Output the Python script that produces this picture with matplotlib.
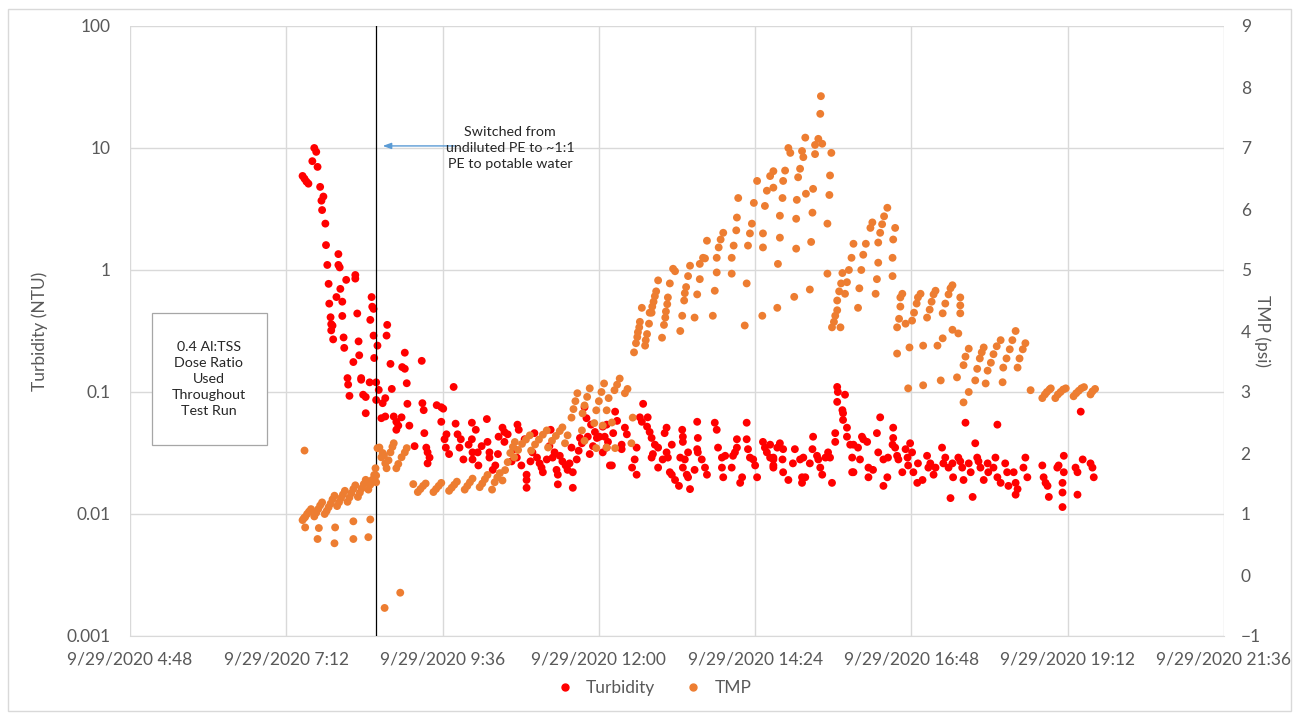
import matplotlib
matplotlib.use("Agg")
import matplotlib.pyplot as plt
from matplotlib.lines import Line2D
from matplotlib.patches import Rectangle
from matplotlib.ticker import NullLocator, FixedLocator

plt.rcParams['font.family'] = ['Lato', 'DejaVu Sans']

# ---------------- data (time in decimal hours on 9/29/2020) ----------------
x_tick_labels = ["9/29/2020 4:48", "9/29/2020 7:12", "9/29/2020 9:36", "9/29/2020 12:00",
                 "9/29/2020 14:24", "9/29/2020 16:48", "9/29/2020 19:12", "9/29/2020 21:36"]
turb_ticks = [0.001, 0.01, 0.1, 1, 10, 100]
turb_tick_labels = ["0.001", "0.01", "0.1", "1", "10", "100"]
tmp_ticks = [-1, 0, 1, 2, 3, 4, 5, 6, 7, 8, 9]
switch_hour = 8.58

turb_startup = [(7.45, 5.9), (7.48, 5.6), (7.51, 5.3), (7.54, 5.1), (7.60, 7.8), (7.63, 10.0),
                (7.66, 9.3), (7.68, 7.0), (7.72, 4.8), (7.74, 3.7), (7.75, 3.1), (7.77, 4.0),
                (7.80, 2.4), (7.81, 1.6), (7.83, 1.1), (7.85, 0.77), (7.86, 0.53), (7.88, 0.41),
                (7.89, 0.36), (7.89, 0.32), (7.91, 0.35), (7.92, 0.27), (7.97, 0.60), (8.00, 1.35),
                (8.00, 1.10), (8.02, 1.05), (8.03, 0.70), (8.06, 0.55), (8.06, 0.42), (8.08, 0.28),
                (8.09, 0.23), (8.12, 0.83), (8.14, 0.13), (8.15, 0.115), (8.17, 0.093), (8.23, 0.176),
                (8.26, 0.91), (8.26, 0.85), (8.29, 0.44), (8.31, 0.26), (8.32, 0.20), (8.35, 0.13),
                (8.35, 0.126), (8.38, 0.095), (8.42, 0.091), (8.42, 0.067), (8.48, 0.12), (8.49, 0.39),
                (8.51, 0.60), (8.52, 0.50), (8.54, 0.48), (8.54, 0.29), (8.55, 0.19), (8.58, 0.12),
                (8.58, 0.086), (8.60, 0.24), (8.62, 0.104), (8.66, 0.061), (8.68, 0.081), (8.72, 0.089),
                (8.72, 0.063), (8.74, 0.29), (8.75, 0.355), (8.80, 0.17), (8.82, 0.106), (8.85, 0.063),
                (8.89, 0.057), (8.89, 0.049), (8.92, 0.053), (8.97, 0.062), (8.98, 0.16), (9.02, 0.21),
                (9.02, 0.155), (9.05, 0.118), (9.06, 0.08), (9.09, 0.053), (9.17, 0.036), (9.28, 0.18),
                (9.29, 0.081), (9.31, 0.071), (9.32, 0.046), (9.35, 0.035), (9.37, 0.032), (9.37, 0.026),
                (9.40, 0.029), (9.51, 0.078), (9.77, 0.11)]

turb_morning = [(9.58, 0.075), (9.61, 0.073), (9.58, 0.057), (9.66, 0.045), (9.63, 0.041), (9.65, 0.035),
                (9.80, 0.055), (9.83, 0.045), (9.88, 0.041), (9.86, 0.035), (10.05, 0.056), (10.05, 0.041),
                (10.11, 0.049), (10.28, 0.060), (10.29, 0.039), (10.06, 0.032), (10.14, 0.032), (10.06, 0.028),
                (10.15, 0.025), (10.32, 0.032), (10.32, 0.029), (10.41, 0.025), (10.37, 0.023), (10.52, 0.051),
                (10.55, 0.047), (10.60, 0.045), (10.75, 0.054), (10.77, 0.049), (10.55, 0.039), (10.86, 0.041),
                (10.74, 0.029), (10.81, 0.025), (10.89, 0.021), (10.89, 0.019), (10.89, 0.0164), (11.01, 0.046),
                (10.98, 0.032), (11.05, 0.029), (11.09, 0.026), (11.12, 0.024), (11.14, 0.022), (11.20, 0.028),
                (11.26, 0.049), (11.29, 0.029), (11.32, 0.032), (11.35, 0.023), (11.37, 0.021), (11.37, 0.0175),
                (11.44, 0.027), (11.49, 0.025), (11.52, 0.023), (11.58, 0.035), (11.60, 0.0164), (11.60, 0.022),
                (11.66, 0.028), (11.71, 0.042), (11.74, 0.038), (11.78, 0.075), (11.81, 0.061), (11.83, 0.043),
                (11.91, 0.036), (11.94, 0.047), (11.97, 0.042), (12.01, 0.043), (12.06, 0.052), (12.09, 0.043),
                (12.12, 0.035), (12.17, 0.025), (12.06, 0.032), (12.25, 0.069), (12.28, 0.058), (12.12, 0.054),
                (12.22, 0.046), (9.70, 0.031), (9.92, 0.028), (10.00, 0.037), (10.20, 0.036), (10.45, 0.031),
                (10.66, 0.027), (10.70, 0.034), (10.95, 0.027), (11.40, 0.030), (11.55, 0.026), (11.86, 0.031),
                (11.88, 0.054), (12.14, 0.039), (10.46, 0.043), (11.24, 0.036), (11.69, 0.033)]

turb_midday = [(12.20, 0.025), (12.35, 0.037), (12.35, 0.034), (12.40, 0.051), (12.43, 0.045), (12.68, 0.080),
               (12.63, 0.062), (12.66, 0.057), (12.75, 0.062), (12.74, 0.052), (12.78, 0.047), (12.81, 0.042),
               (12.86, 0.037), (12.91, 0.035), (12.83, 0.031), (12.81, 0.029), (12.58, 0.035), (12.55, 0.028),
               (12.51, 0.024), (12.58, 0.021), (13.04, 0.051), (13.01, 0.046), (13.12, 0.037), (13.04, 0.032),
               (13.06, 0.029), (12.98, 0.028), (12.91, 0.024), (13.09, 0.022), (13.12, 0.021), (13.17, 0.019),
               (13.23, 0.017), (13.28, 0.049), (13.29, 0.043), (13.29, 0.039), (13.25, 0.029), (13.32, 0.028),
               (13.29, 0.024), (13.35, 0.021), (13.37, 0.020), (13.40, 0.016), (13.37, 0.032), (13.51, 0.057),
               (13.52, 0.042), (13.51, 0.034), (13.52, 0.032), (13.58, 0.028), (13.63, 0.024), (13.47, 0.023),
               (13.66, 0.021), (13.78, 0.056), (13.81, 0.049), (13.83, 0.035), (13.89, 0.029), (13.94, 0.030),
               (13.89, 0.024), (13.91, 0.020), (14.04, 0.024), (14.06, 0.030), (14.09, 0.032), (14.12, 0.041),
               (14.12, 0.035), (14.17, 0.018), (14.20, 0.020), (14.27, 0.056), (14.27, 0.041), (14.29, 0.034),
               (14.32, 0.029), (14.37, 0.028), (14.40, 0.025), (14.43, 0.020), (14.52, 0.039), (14.55, 0.035),
               (14.58, 0.032), (14.63, 0.029), (14.68, 0.028), (14.68, 0.024), (14.74, 0.035)]

turb_afternoon = [(14.63, 0.037), (14.68, 0.029), (14.68, 0.025), (14.78, 0.038), (14.83, 0.034), (14.82, 0.028),
                  (14.83, 0.022), (14.91, 0.019), (15.01, 0.034), (14.98, 0.026), (15.09, 0.028), (15.14, 0.029),
                  (15.12, 0.020), (15.12, 0.018), (15.17, 0.020), (15.24, 0.026), (15.29, 0.043), (15.28, 0.034),
                  (15.35, 0.030), (15.37, 0.028), (15.40, 0.024), (15.43, 0.021), (15.48, 0.029), (15.52, 0.032),
                  (15.55, 0.029), (15.58, 0.018), (15.63, 0.039), (15.63, 0.046), (15.66, 0.11), (15.67, 0.10),
                  (15.78, 0.095), (15.66, 0.083), (15.74, 0.071), (15.75, 0.067), (15.75, 0.059), (15.81, 0.051),
                  (15.81, 0.043), (15.86, 0.037), (15.91, 0.037), (15.98, 0.035), (15.89, 0.029), (15.89, 0.022),
                  (15.91, 0.022), (16.01, 0.028), (16.04, 0.043), (16.06, 0.041), (16.12, 0.039), (16.14, 0.024),
                  (16.14, 0.020), (16.21, 0.023), (16.27, 0.046), (16.29, 0.032), (16.32, 0.062), (16.37, 0.028),
                  (16.37, 0.017), (16.43, 0.020), (16.44, 0.029), (16.51, 0.037), (16.52, 0.051), (16.52, 0.042),
                  (16.55, 0.035), (16.58, 0.030), (16.60, 0.028), (16.66, 0.022), (16.71, 0.034), (16.74, 0.029),
                  (16.75, 0.025), (16.78, 0.038), (16.81, 0.032), (16.83, 0.022), (16.89, 0.018)]

turb_evening = [(16.90, 0.026), (16.97, 0.019), (17.04, 0.030), (17.06, 0.024), (17.09, 0.026), (17.14, 0.021),
                (17.17, 0.024), (17.27, 0.035), (17.29, 0.026), (17.32, 0.029), (17.37, 0.024), (17.43, 0.026),
                (17.40, 0.0135), (17.44, 0.020), (17.52, 0.029), (17.55, 0.027), (17.58, 0.024), (17.63, 0.056),
                (17.60, 0.019), (17.68, 0.026), (17.71, 0.022), (17.74, 0.0138), (17.78, 0.038), (17.81, 0.029),
                (17.83, 0.027), (17.86, 0.024), (17.91, 0.019), (17.97, 0.026), (17.98, 0.022), (18.09, 0.029),
                (18.12, 0.054), (18.06, 0.024), (18.12, 0.020), (18.17, 0.018), (18.24, 0.026), (18.27, 0.022),
                (18.29, 0.017), (18.37, 0.022), (18.40, 0.018), (18.40, 0.0144), (18.43, 0.016), (18.52, 0.024),
                (18.55, 0.029), (18.58, 0.020), (18.81, 0.025), (18.83, 0.020), (18.86, 0.018), (18.89, 0.017),
                (18.91, 0.0138), (19.04, 0.024), (19.06, 0.025), (19.12, 0.018), (19.14, 0.030), (19.14, 0.022),
                (19.12, 0.015), (19.12, 0.0114), (19.32, 0.024), (19.35, 0.022), (19.35, 0.0144), (19.40, 0.069),
                (19.43, 0.028), (19.55, 0.026), (19.58, 0.024), (19.60, 0.020)]

tmp_undiluted = [(7.48, 2.04),
                 (7.45, 0.90), (7.47, 0.93), (7.49, 0.95), (7.52, 1.00), (7.55, 1.04), (7.58, 1.08),
                 (7.63, 0.96), (7.66, 1.02), (7.69, 1.08), (7.72, 1.14), (7.75, 1.19),
                 (7.79, 1.00), (7.82, 1.05), (7.85, 1.11), (7.88, 1.17), (7.91, 1.24), (7.94, 1.30),
                 (7.98, 1.13), (8.01, 1.19), (8.04, 1.26), (8.07, 1.32), (8.10, 1.38),
                 (8.14, 1.20), (8.17, 1.27), (8.20, 1.34), (8.23, 1.41), (8.26, 1.47),
                 (8.30, 1.28), (8.33, 1.35), (8.36, 1.42), (8.39, 1.49), (8.42, 1.56),
                 (8.46, 1.40), (8.49, 1.48), (8.52, 1.56), (8.55, 1.64), (8.57, 1.75),
                 (7.49, 0.78), (7.70, 0.77), (7.95, 0.78), (8.23, 0.88), (8.49, 0.91),
                 (7.68, 0.59), (7.94, 0.52), (8.23, 0.59), (8.46, 0.62)]

tmp_diluted_1 = [(8.58, 1.63), (8.58, 1.52), (8.60, 2.08), (8.63, 2.09), (8.66, 1.93), (8.68, 2.00),
                 (8.70, 1.96), (8.72, 1.83), (8.74, 1.75), (8.77, 1.88), (8.80, 2.01), (8.83, 2.10),
                 (8.85, 2.16), (8.89, 1.75), (8.92, 1.82), (8.97, 1.93), (9.02, 2.01), (9.05, 2.08),
                 (8.95, -0.29), (8.71, -0.54)]

tmp_diluted_2 = [(9.15, 1.49),
                 (9.22, 1.36), (9.26, 1.41), (9.30, 1.46), (9.34, 1.50),
                 (9.46, 1.36), (9.50, 1.41), (9.54, 1.46), (9.58, 1.51),
                 (9.70, 1.38), (9.74, 1.43), (9.78, 1.48), (9.82, 1.53),
                 (9.94, 1.40), (9.98, 1.46), (10.02, 1.52), (10.06, 1.58),
                 (10.17, 1.44), (10.21, 1.50), (10.25, 1.57), (10.29, 1.64),
                 (10.40, 1.52), (10.44, 1.60), (10.48, 1.67),
                 (10.56, 1.72), (10.60, 1.85), (10.64, 2.00), (10.68, 2.10), (10.71, 2.18),
                 (10.70, 1.93), (10.76, 2.05), (10.82, 2.15), (10.88, 2.22), (10.94, 2.29),
                 (10.96, 2.04), (11.02, 2.14), (11.08, 2.22), (11.14, 2.30), (11.20, 2.37),
                 (11.22, 2.09), (11.28, 2.20), (11.34, 2.28), (11.40, 2.36), (11.44, 2.42),
                 (11.48, 2.16), (11.52, 2.29), (10.36, 1.40), (10.52, 1.55)]

tmp_diluted_3 = [(11.58, 2.58), (11.61, 2.72), (11.64, 2.85), (11.67, 2.98),
                 (11.75, 2.65), (11.78, 2.78), (11.82, 2.92), (11.86, 3.06),
                 (11.96, 2.70), (12.00, 2.85), (12.04, 3.00), (12.08, 3.14),
                 (12.12, 2.70), (12.15, 2.90),
                 (12.24, 3.03), (12.28, 3.12), (12.32, 3.22),
                 (12.40, 2.98), (12.44, 3.05),
                 (11.74, 2.37), (11.93, 2.49), (12.06, 2.45), (12.20, 2.50), (11.78, 2.20),
                 (11.96, 2.08), (12.12, 2.09), (12.25, 2.08), (12.50, 2.16), (12.52, 2.58)]

tmp_rise_1 = [(12.54, 3.65),
              (12.57, 3.80), (12.59, 3.90), (12.60, 3.98), (12.62, 4.06), (12.63, 4.15), (12.66, 4.38),
              (12.71, 3.76), (12.72, 3.85), (12.74, 3.95), (12.77, 4.12), (12.78, 4.30),
              (12.81, 4.30), (12.82, 4.40), (12.84, 4.48), (12.86, 4.57), (12.88, 4.65), (12.91, 4.83),
              (12.97, 3.89), (13.00, 4.10), (13.02, 4.22), (13.03, 4.32), (13.05, 4.44), (13.06, 4.55),
              (13.09, 4.78),
              (13.14, 5.02), (13.17, 4.98),
              (13.25, 4.00), (13.28, 4.25), (13.31, 4.50), (13.32, 4.62), (13.34, 4.72), (13.37, 4.90),
              (13.40, 5.07),
              (13.47, 4.22), (13.51, 4.60), (13.55, 4.85), (13.55, 5.10), (13.60, 5.20), (13.63, 5.19),
              (13.66, 5.48),
              (13.75, 4.25), (13.78, 4.66), (13.81, 4.96), (13.81, 5.20), (13.84, 5.37), (13.87, 5.50),
              (13.91, 5.61),
              (14.04, 4.94), (14.04, 5.20), (14.07, 5.40), (14.11, 5.65), (14.12, 5.86), (14.14, 6.18),
              (14.24, 4.09), (14.27, 4.78), (14.29, 5.40), (14.32, 5.60), (14.35, 5.76), (14.38, 6.10),
              (14.43, 6.46),
              (14.51, 4.25), (14.52, 5.37), (14.52, 5.60), (14.55, 6.05), (14.58, 6.30), (14.63, 6.54),
              (14.68, 6.35), (14.68, 6.62),
              (14.74, 4.38), (14.75, 5.10), (14.78, 5.53), (14.78, 5.89), (14.82, 6.18), (14.83, 6.46),
              (14.86, 6.63), (14.91, 7.00), (14.94, 6.92),
              (15.00, 4.56), (15.03, 5.35), (15.03, 5.84), (15.04, 6.15), (15.06, 6.52), (15.09, 6.66),
              (15.12, 6.95), (15.14, 6.85), (15.17, 7.17),
              (15.24, 4.68), (15.26, 5.46), (15.28, 5.94), (15.29, 6.33), (15.18, 6.25), (15.32, 6.90),
              (15.32, 7.05), (15.37, 7.15), (15.40, 7.56), (15.41, 7.85), (15.43, 7.07),
              (15.51, 4.94), (15.51, 5.76), (15.54, 6.23), (15.55, 6.55), (15.57, 6.92)]

tmp_rise_2 = [(15.58, 4.06), (15.61, 4.15), (15.63, 4.25), (15.66, 4.34), (15.71, 4.06),
              (15.66, 4.50), (15.69, 4.65), (15.72, 4.78), (15.74, 4.95),
              (15.78, 4.61), (15.81, 4.80), (15.84, 5.00), (15.88, 5.20), (15.91, 5.43),
              (15.98, 4.38), (16.00, 4.70), (16.03, 5.00), (16.06, 5.25), (16.10, 5.43),
              (16.17, 5.69), (16.20, 5.78),
              (16.25, 4.61), (16.27, 4.85), (16.29, 5.12), (16.29, 5.45),
              (16.32, 5.61), (16.35, 5.75), (16.38, 5.88), (16.43, 6.02),
              (16.51, 4.90), (16.51, 5.20), (16.52, 5.50), (16.55, 5.69)]

tmp_rise_3 = [(16.58, 4.06), (16.61, 4.20), (16.63, 4.40), (16.63, 4.55), (16.66, 4.61),
              (16.58, 3.63), (16.71, 4.12), (16.77, 3.73), (16.75, 3.06),
              (16.81, 4.17), (16.84, 4.30), (16.88, 4.45), (16.90, 4.55), (16.94, 4.61),
              (16.98, 3.76), (16.98, 3.11),
              (17.04, 4.22), (17.08, 4.35), (17.11, 4.48), (17.14, 4.60), (17.17, 4.66),
              (17.20, 3.76), (17.25, 3.19), (17.28, 3.88),
              (17.28, 4.29), (17.32, 4.45), (17.37, 4.60), (17.40, 4.70), (17.43, 4.75),
              (17.43, 4.02), (17.52, 3.96), (17.50, 3.24),
              (17.55, 4.29), (17.55, 4.42), (17.55, 4.55)]

tmp_rise_4 = [(17.60, 2.83), (17.60, 3.44), (17.63, 3.58), (17.68, 3.71), (17.68, 3.00),
              (17.78, 3.19), (17.81, 3.38), (17.85, 3.55), (17.88, 3.65), (17.91, 3.73),
              (17.94, 3.14),
              (17.97, 3.35), (18.02, 3.48), (18.06, 3.62), (18.11, 3.75), (18.17, 3.85),
              (18.20, 3.16),
              (18.21, 3.40), (18.26, 3.55), (18.31, 3.70), (18.35, 3.85), (18.40, 4.00),
              (18.43, 3.40), (18.46, 3.55), (18.51, 3.70), (18.55, 3.80)]

tmp_final = [(18.63, 3.03),
             (18.81, 2.90), (18.85, 2.96), (18.88, 3.00), (18.92, 3.04), (18.94, 3.06),
             (19.01, 2.90), (19.05, 2.96), (19.09, 3.00), (19.13, 3.04), (19.17, 3.06),
             (19.29, 2.93), (19.33, 2.98), (19.37, 3.02), (19.41, 3.06), (19.45, 3.08),
             (19.55, 2.96), (19.58, 3.01), (19.62, 3.05)]

note_text = "Switched from\nundiluted PE to ~1:1\nPE to potable water"
box_text = "0.4 Al:TSS\nDose Ratio\nUsed\nThroughout\nTest Run"

# ---------------- assemble ----------------
turb_pts = turb_startup + turb_morning + turb_midday + turb_afternoon + turb_evening
tmp_pts = (tmp_undiluted + tmp_diluted_1 + tmp_diluted_2 + tmp_diluted_3 +
           tmp_rise_1 + tmp_rise_2 + tmp_rise_3 + tmp_rise_4 + tmp_final)
turb_h = [p[0] for p in turb_pts]
turb_v = [p[1] for p in turb_pts]
tmp_h = [p[0] for p in tmp_pts]
tmp_v = [p[1] for p in tmp_pts]


def label_to_hours(lbl):
    hm = lbl.split(" ")[1]
    hh, mm = hm.split(":")
    return int(hh) + int(mm) / 60.0


x_ticks = [label_to_hours(l) for l in x_tick_labels]

W, H = 1299, 719
fig = plt.figure(figsize=(W / 100, H / 100), dpi=100)
fig.patch.set_facecolor("white")

L, R, T, B = 130, 1224, 26, 636
ax = fig.add_axes([L / W, 1 - B / H, (R - L) / W, (B - T) / H])
ax.set_yscale("log")
ax.set_ylim(turb_ticks[0], turb_ticks[-1])
ax.set_xlim(x_ticks[0], x_ticks[-1])
ax.yaxis.set_major_locator(FixedLocator(turb_ticks))
ax.yaxis.set_minor_locator(NullLocator())
ax.set_yticklabels(turb_tick_labels)
ax.set_xticks(x_ticks)
ax.set_xticklabels(x_tick_labels)
ax.grid(True, which="major", color="#D9D9D9", lw=1.0)
ax.set_axisbelow(True)
for s in ["top", "right", "left"]:
    ax.spines[s].set_visible(False)
ax.spines["bottom"].set_color("#D9D9D9")
ax.tick_params(axis="both", length=0, labelcolor="#595959", labelsize=12.5)
ax.tick_params(axis="y", pad=14)
ax.tick_params(axis="x", pad=11)

ax2 = ax.twinx()
ax2.set_ylim(tmp_ticks[0], tmp_ticks[-1])
ax2.set_yticks(tmp_ticks)
for s in ["top", "right", "left", "bottom"]:
    ax2.spines[s].set_visible(False)
ax2.tick_params(axis="y", length=0, labelcolor="#595959", labelsize=12.5, pad=12)

ax.scatter(turb_h, turb_v, s=32, color="#FF0000", edgecolors="none", zorder=3)
ax2.scatter(tmp_h, tmp_v, s=32, color="#ED7D31", edgecolors="none", zorder=3)

ax.axvline(switch_hour, color="#000000", lw=0.9, zorder=4)

ax.set_ylabel("Turbidity (NTU)", color="#595959", fontsize=12.5, va="center", ha="center")
ax.yaxis.set_label_coords((40 - L) / (R - L), 0.5)
ax2.set_ylabel("TMP (psi)", color="#595959", fontsize=12.5, rotation=270, va="center", ha="center")
ax2.yaxis.set_label_coords((1262 - L) / (R - L), 0.5)

# annotation arrow + text
ax.annotate("", xy=(8.68, 10.4), xytext=(9.78, 10.4),
            arrowprops=dict(arrowstyle="-|>,head_length=0.5,head_width=0.18",
                            color="#5B9BD5", lw=1.0, shrinkA=0, shrinkB=0), zorder=5)
ax.text(10.64, 10.0, note_text, ha="center", va="center", fontsize=10.3,
        color="#262626", linespacing=1.42, zorder=5)

# dose ratio box
fig.patches.append(Rectangle((152 / W, 1 - 445 / H), 115 / W, 132 / H, transform=fig.transFigure,
                             facecolor="white", edgecolor="#A6A6A6", lw=0.9, zorder=5))
fig.text(209 / W, 1 - 379 / H, box_text, ha="center", va="center", fontsize=10.3,
         color="#262626", linespacing=1.42, zorder=6)

# outer chart border
fig.patches.append(Rectangle((8 / W, 1 - 711 / H), 1283 / W, 702 / H, transform=fig.transFigure,
                             facecolor="none", edgecolor="#D9D9D9", lw=1.0))

handles = [Line2D([], [], marker="o", ls="none", color="#FF0000", markersize=5),
           Line2D([], [], marker="o", ls="none", color="#ED7D31", markersize=5)]
fig.legend(handles, ["Turbidity", "TMP"], loc="center", bbox_to_anchor=(0.5, 1 - 688 / H),
           ncol=2, frameon=False, fontsize=12.5, handletextpad=0.2, columnspacing=1.2,
           labelcolor="#595959")

fig.savefig("out.png", dpi=100)
